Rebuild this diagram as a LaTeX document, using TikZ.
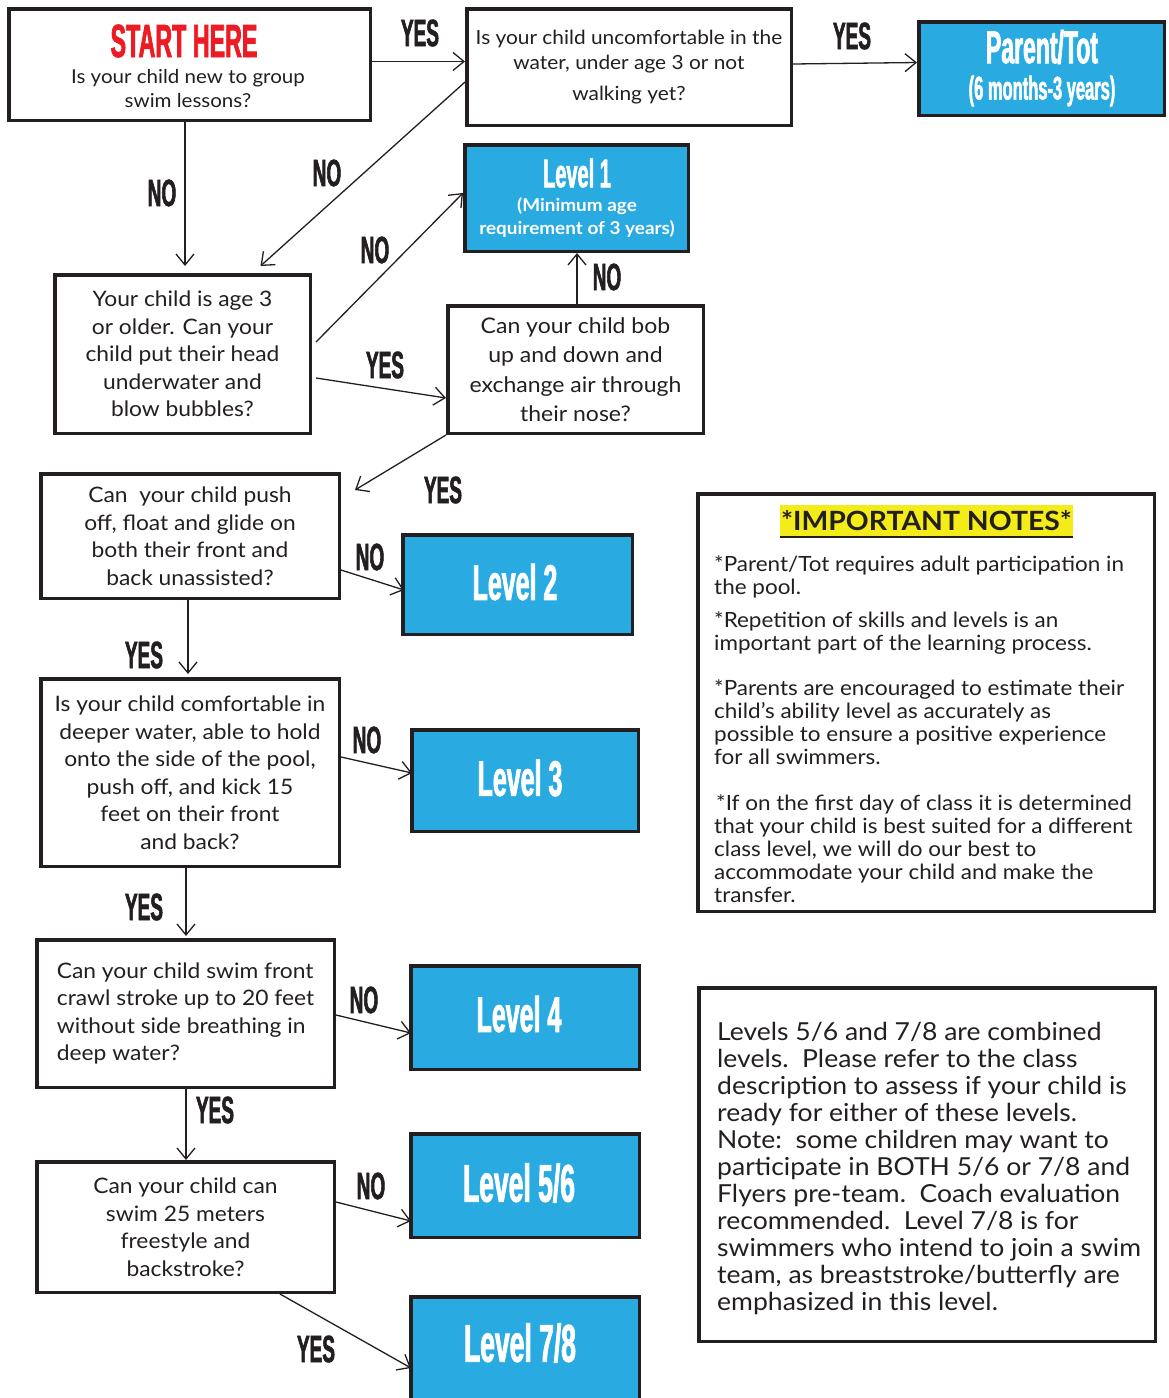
\documentclass[tikz,border=0pt]{standalone}
\usepackage{fontspec}
\setmainfont{Lato}[FakeStretch=1.07]
\newfontfamily\condf[FakeStretch=0.5,FakeBold=1.5,UprightFont={* Bold}]{Liberation Sans}
\usetikzlibrary{arrows.meta,calc}
\definecolor{swimblue}{RGB}{41,171,226}
\definecolor{startred}{RGB}{237,28,36}
\definecolor{txt}{RGB}{35,31,32}
\definecolor{hlyellow}{RGB}{243,236,25}
\begin{document}
\begin{tikzpicture}[x=1pt,y=1pt,
  qbox/.style={draw=txt, line width=3.5pt, fill=white, inner sep=0pt, align=center, text=txt, font=\fontsize{21.3}{27.5}\selectfont},
  lbox/.style={draw=txt, line width=3.5pt, fill=swimblue, inner sep=0pt, align=center, text=white},
  lvl/.style={font=\condf\fontsize{50}{50}\selectfont},
  yn/.style={font=\condf\fontsize{38}{38}\selectfont, text=txt, inner sep=0pt},
  arr/.style={draw=txt, line width=1.3pt, -{Straight Barb[length=11pt,width=18pt]}},
]
\useasboundingbox (0,0) rectangle (1169,-1398);
\clip (0,0) rectangle (1169,-1398);
\fill[white] (0,0) rectangle (1169,-1398);

% ---------- boxes ----------
\node[qbox, minimum width=361.5, minimum height=111.5] (start) at (189.5,-64.5) {};
\node[text=startred, inner sep=0pt, font=\condf\fontsize{46.5}{46.5}\selectfont] (starttitle) at (184,-41) {START HERE};
\node[text=txt, inner sep=0pt, align=center, font=\fontsize{19.2}{24}\selectfont] (starttext) at (188,-89) {Is your child new to group\\swim lessons?};

\node[qbox, minimum width=324.5, minimum height=116.5, font=\fontsize{19.5}{25}\selectfont] (q2) at (629,-67) {Is your child uncomfortable in the\\water, under age 3 or not\\[6pt]walking yet?};

\node[lbox, minimum width=245.5, minimum height=93.5] (parent) at (1041.5,-68.5) {};
\node[text=white, inner sep=0pt, font=\condf\fontsize{46}{46}\selectfont] (parentt) at (1042,-47) {Parent/Tot};
\node[text=white, inner sep=0pt, font=\condf\fontsize{33}{33}\selectfont] (parents) at (1042,-91) {(6 months-3 years)};

\node[lbox, minimum width=223.5, minimum height=106.5] (l1) at (576.5,-198) {};
\node[text=white, inner sep=0pt, font=\condf\fontsize{40}{40}\selectfont] (l1t) at (577,-173) {Level 1};
\node[text=white, inner sep=0pt, align=center, font=\bfseries\fontsize{17.7}{23}\selectfont] (l1s) at (577,-218) {(Minimum age\\requirement of 3 years)};

\node[qbox, minimum width=255.5, minimum height=158.5] (q3) at (182.5,-354) {Your child is age 3\\or older. Can your\\child put their head\\underwater and\\blow bubbles?};

\node[qbox, minimum width=255.5, minimum height=127.5, font=\fontsize{21.5}{29.5}\selectfont] (q4) at (575.5,-369.5) {Can your child bob\\up and down and\\exchange air through\\their nose?};

\node[qbox, minimum width=298.5, minimum height=124.5] (q5) at (190,-536) {Can\ \ your child push\\off, float and glide on\\both their front and\\back unassisted?};

\node[lbox, minimum width=229.5, minimum height=99.5] (l2) at (517.5,-584.5) {};
\node[text=white, inner sep=0pt, lvl] (l2t) at (515,-582) {Level 2};

\node[qbox, minimum width=298.5, minimum height=187.5] (q6) at (190,-772.5) {Is your child comfortable in\\deeper water, able to hold\\onto the side of the pool,\\push off, and kick 15\\feet on their front\\and back?};

\node[lbox, minimum width=226.5, minimum height=101.5] (l3) at (525,-780.5) {};
\node[text=white, inner sep=0pt, lvl] (l3t) at (520,-778) {Level 3};

\node[qbox, minimum width=297.5, minimum height=147.5, align=left] (q7) at (185.5,-1013.5) {Can your child swim front\\crawl stroke up to 20 feet\\without side breathing in\\deep water?};

\node[lbox, minimum width=228.5, minimum height=103.5] (l4) at (525,-1017.5) {};
\node[text=white, inner sep=0pt, lvl] (l4t) at (519,-1014) {Level 4};

\node[qbox, minimum width=297.5, minimum height=130.5] (q8) at (185.5,-1227) {Can your child can\\swim 25 meters\\freestyle and\\backstroke?};

\node[lbox, minimum width=228.5, minimum height=103.5] (l56) at (525,-1185.5) {};
\node[text=white, inner sep=0pt, font=\condf\fontsize{53}{53}\selectfont] (l56t) at (519,-1183) {Level 5/6};

\node[lbox, minimum width=228.5, minimum height=111.5] (l78) at (525,-1352.5) {};
\node[text=white, inner sep=0pt, font=\condf\fontsize{53}{53}\selectfont] (l78t) at (520,-1343) {Level 7/8};

% ---------- notes ----------
\node[draw=txt, line width=3.5pt, fill=white, minimum width=456.5, minimum height=417.5] (notes) at (926,-702.5) {};
\node[fill=hlyellow, text=txt, inner xsep=1pt, inner ysep=0pt, minimum height=32, font=\bfseries\fontsize{26.5}{26.5}\selectfont] (nhead) at (926.5,-521) {*IMPORTANT NOTES*};
\draw[txt, line width=2pt] (nhead.south west) -- (nhead.south east);
\node[anchor=north west, align=left, inner sep=0pt, text=txt, font=\fontsize{21}{23}\selectfont] (nbody) at (714,-555) {*Parent/Tot requires adult participation in\\the pool.\\[10pt]*Repetition of skills and levels is an\\important part of the learning process.\\[22pt]*Parents are encouraged to estimate their\\child’s ability level as accurately as\\possible to ensure a positive experience\\for all swimmers.\\[23pt]\hspace*{2pt}*If on the first day of class it is determined\\that your child is best suited for a different\\class level, we will do our best to\\accommodate your child and make the\\transfer.};

\node[draw=txt, line width=3.5pt, fill=white, minimum width=456.5, minimum height=353.5] (notes2) at (927,-1164.5) {};
\node[anchor=north west, align=left, inner sep=0pt, text=txt, font=\fontsize{24.8}{27}\selectfont] (n2body) at (717,-1022) {Levels 5/6 and 7/8 are combined\\levels.\ \ Please refer to the class\\description to assess if your child is\\ready for either of these levels.\\Note:\ \ some children may want to\\participate in BOTH 5/6 or 7/8 and\\Flyers pre-team.\ \ Coach evaluation\\recommended.\ \ Level 7/8 is for\\swimmers who intend to join a swim\\team, as breaststroke/butterfly are\\emphasized in this level.};

% ---------- connectors ----------
\draw[arr] ([yshift=3pt]start.east) -- ([yshift=3pt]start.east -| q2.west);
\draw[arr] ([yshift=3pt]q2.east) -- ([yshift=6pt]parent.west);
\draw[arr] ([yshift=-15pt]q2.west) -- ([xshift=78pt,yshift=7pt]q3.north);
\draw[arr, shorten >=7pt] ([xshift=-4.5pt]start.south) -- ([xshift=-4.5pt]start.south |- q3.north);
\draw[arr] ([xshift=4pt,yshift=12pt]q3.east) -- ([yshift=5pt]l1.west);
\draw[arr] ([xshift=4pt,yshift=-24pt]q3.east) -- ([yshift=-28.5pt]q4.west);
\draw[arr] ([xshift=1.5pt]q4.north) -- ([xshift=1.5pt]q4.north |- l1.south);
\draw[arr] (q4.south west) -- ([xshift=14pt,yshift=-18pt]q5.north east);
\draw[arr] ([yshift=-34pt]q5.east) -- ([xshift=3pt,yshift=-5.5pt]l2.west);
\draw[arr, shorten >=3pt] ([xshift=-2pt]q5.south) -- ([xshift=-2pt]q5.south |- q6.north);
\draw[arr] ([yshift=15.5pt]q6.east) -- ([xshift=2pt,yshift=7.5pt]l3.west);
\draw[arr, shorten >=2pt] ([xshift=-4pt]q6.south) -- ([xshift=-4pt]q6.south |- q7.north);
\draw[arr] ([yshift=-1.5pt]q7.east) -- ([xshift=2pt,yshift=-15.5pt]l4.west);
\draw[arr] ([xshift=0.5pt]q7.south) -- ([xshift=0.5pt]q7.south |- q8.north);
\draw[arr] ([yshift=25pt]q8.east) -- ([xshift=2pt,yshift=-35.5pt]l56.west);
\draw[arr] ([xshift=94.5pt]q8.south) -- ([xshift=2pt,yshift=-15.5pt]l78.west);

% ---------- labels ----------
\node[yn] (y1) at (420,-33) {YES};
\node[yn] (y2) at (852,-36) {YES};
\node[yn] (n1) at (327,-173) {NO};
\node[yn] (n2) at (162,-193) {NO};
\node[yn] (n3) at (375,-250) {NO};
\node[yn] (y3) at (385,-365) {YES};
\node[yn] (n4) at (607,-277) {NO};
\node[yn] (y4) at (443,-490) {YES};
\node[yn] (n5) at (370,-557) {NO};
\node[yn] (y5) at (144,-655) {YES};
\node[yn] (n6) at (367,-740) {NO};
\node[yn] (y6) at (144,-907) {YES};
\node[yn] (n7) at (364,-1000) {NO};
\node[yn] (y7) at (215,-1110) {YES};
\node[yn] (n8) at (371,-1186) {NO};
\node[yn] (y8) at (316,-1349) {YES};
\end{tikzpicture}
\end{document}
